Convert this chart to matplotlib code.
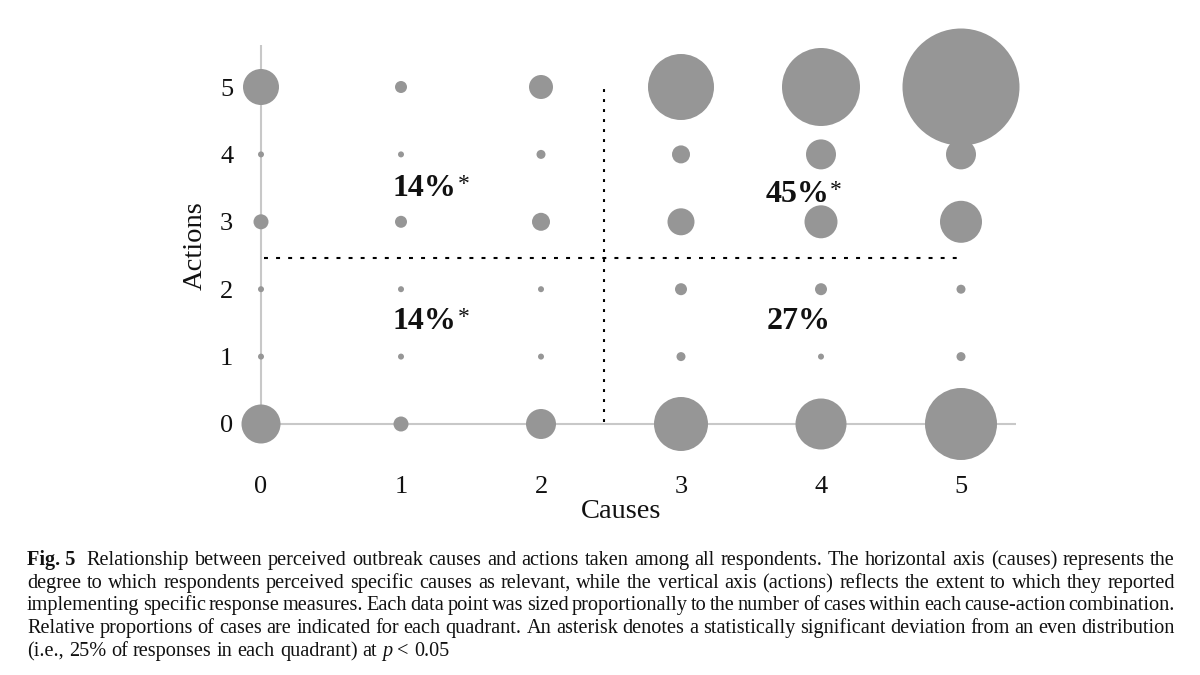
import matplotlib.pyplot as plt
import numpy as np

plt.rcParams['font.family'] = ['Liberation Serif', 'DejaVu Serif']

# --- data ---------------------------------------------------------------
causes = [0, 1, 2, 3, 4, 5]
actions = [0, 1, 2, 3, 4, 5]

# number of cases per cause-action cell (rows = actions 0..5, cols = causes 0..5)
cases_a0 = [13, 5, 10, 18, 17, 24]
cases_a1 = [2, 2, 2, 3, 2, 3]
cases_a2 = [2, 2, 2, 4, 4, 3]
cases_a3 = [5, 4, 6, 9, 11, 14]
cases_a4 = [2, 2, 3, 6, 10, 10]
cases_a5 = [12, 4, 8, 22, 26, 39]

# quadrants: top-left, top-right, bottom-left, bottom-right
quadrant_share = ['14%', '45%', '14%', '27%']
quadrant_signif = [True, True, True, False]

caption_lines = [
    "Fig. 5 Relationship between perceived outbreak causes and actions taken among all respondents. "
    "The horizontal axis (causes) represents the",
    "degree to which respondents perceived specific causes as relevant, while the vertical axis "
    "(actions) reflects the extent to which they reported",
    "implementing specific response measures. Each data point was sized proportionally to the "
    "number of cases within each cause-action combination.",
    "Relative proportions of cases are indicated for each quadrant. An asterisk denotes a "
    "statistically significant deviation from an even distribution",
    "(i.e., 25% of responses in each quadrant) at p < 0.05",
]

# --- layout ---------------------------------------------------------------
W, H, DPI = 1200, 675, 100
PX_PER_CASE = 3.0  # bubble diameter in pixels per case
BUBBLE = '#969696'
AXLINE = '#c8c8c8'

fig = plt.figure(figsize=(W / DPI, H / DPI), dpi=DPI)
fig.patch.set_facecolor('white')

# axes placed so that cause 0 -> x=261px, action 0 -> y=424px
ax = fig.add_axes([245 / W, 235 / H, 785 / W, 410 / H])
ax.set_xlim(-16 / 140, 769 / 140)
ax.set_ylim(-16 / 67.4, 394 / 67.4)

for s in ax.spines.values():
    s.set_visible(False)

# light grey axis lines
ax.plot([0, 0], [0, 5.62], color=AXLINE, lw=1.5, zorder=1, solid_capstyle='butt')
ax.plot([0, 5.39], [0, 0], color=AXLINE, lw=1.5, zorder=1, solid_capstyle='butt')

# bubbles, diameter proportional to number of cases
cases = np.array([cases_a0, cases_a1, cases_a2, cases_a3, cases_a4, cases_a5])
X, Y = np.meshgrid(causes, actions)
diam_pt = cases * PX_PER_CASE * 72 / DPI
ax.scatter(X.ravel(), Y.ravel(), s=(diam_pt ** 2).ravel(), color=BUBBLE,
           linewidths=0, zorder=2, clip_on=False)

# quadrant dividers
ax.plot([2.45, 2.45], [0.03, 5.03], color='black', lw=1.5,
        linestyle=(0, (1.4, 3.4)), zorder=3)
ax.plot([0.02, 4.97], [2.46, 2.46], color='black', lw=1.5,
        linestyle=(0, (1.9, 3.9)), zorder=3)

# quadrant percentages
quad_pos = [(1.17, 3.50), (3.83, 3.41), (1.17, 1.52), (3.84, 1.52)]
for label, sig, (qx, qy) in zip(quadrant_share, quadrant_signif, quad_pos):
    t = ax.text(qx, qy, label, ha='center', va='center', fontsize=23,
                fontweight='bold', color='#111111', zorder=4)
    if sig:
        ax.annotate('*', xy=(1, 1), xycoords=t, xytext=(0.5, 0),
                    textcoords='offset points', ha='left', va='top',
                    fontsize=17, color='#111111')

ax.set_xticks(causes)
ax.set_yticks(actions)
ax.tick_params(axis='both', length=0, labelsize=19, colors='#111111')
ax.tick_params(axis='x', pad=26)
ax.tick_params(axis='y', pad=8.5)

ax.set_xlabel('Causes', fontsize=20.5, color='#111111', va='center')
ax.xaxis.set_label_coords(2.57, -1.30, transform=ax.transData)
ax.set_ylabel('Actions', fontsize=20.5, color='#111111', va='center')
ax.yaxis.set_label_coords(-0.471, 2.64, transform=ax.transData)

# --- caption, justified line by line --------------------------------------
CAP_FS = 14.6
CAP_LEFT, CAP_RIGHT = 27, 1175
cap_baselines = [565, 588, 610, 633, 656]
renderer = fig.canvas.get_renderer()

for n, (line, yb) in enumerate(zip(caption_lines, cap_baselines)):
    words = line.split(' ')
    if n == 0:
        words = ['Fig. 5'] + words[2:]
    texts = []
    for i, w in enumerate(words):
        bold = (n == 0 and i == 0)
        italic = (n == len(caption_lines) - 1 and w == 'p')
        texts.append(fig.text(0, 1 - yb / H, w, fontsize=CAP_FS, va='baseline', ha='left',
                              fontweight='bold' if bold else 'normal',
                              fontstyle='italic' if italic else 'normal',
                              color='#111111'))
    widths = [t.get_window_extent(renderer=renderer).width for t in texts]
    extra = 6 if n == 0 else 0
    if n < len(caption_lines) - 1:
        gap = (CAP_RIGHT - CAP_LEFT - extra - sum(widths)) / (len(words) - 1)
    else:
        gap = CAP_FS * DPI / 72 * 0.25
    x = CAP_LEFT
    for i, (t, w) in enumerate(zip(texts, widths)):
        t.set_x(x / W)
        x += w + gap
        if i == 0:
            x += extra

fig.savefig('out.png', dpi=DPI)
